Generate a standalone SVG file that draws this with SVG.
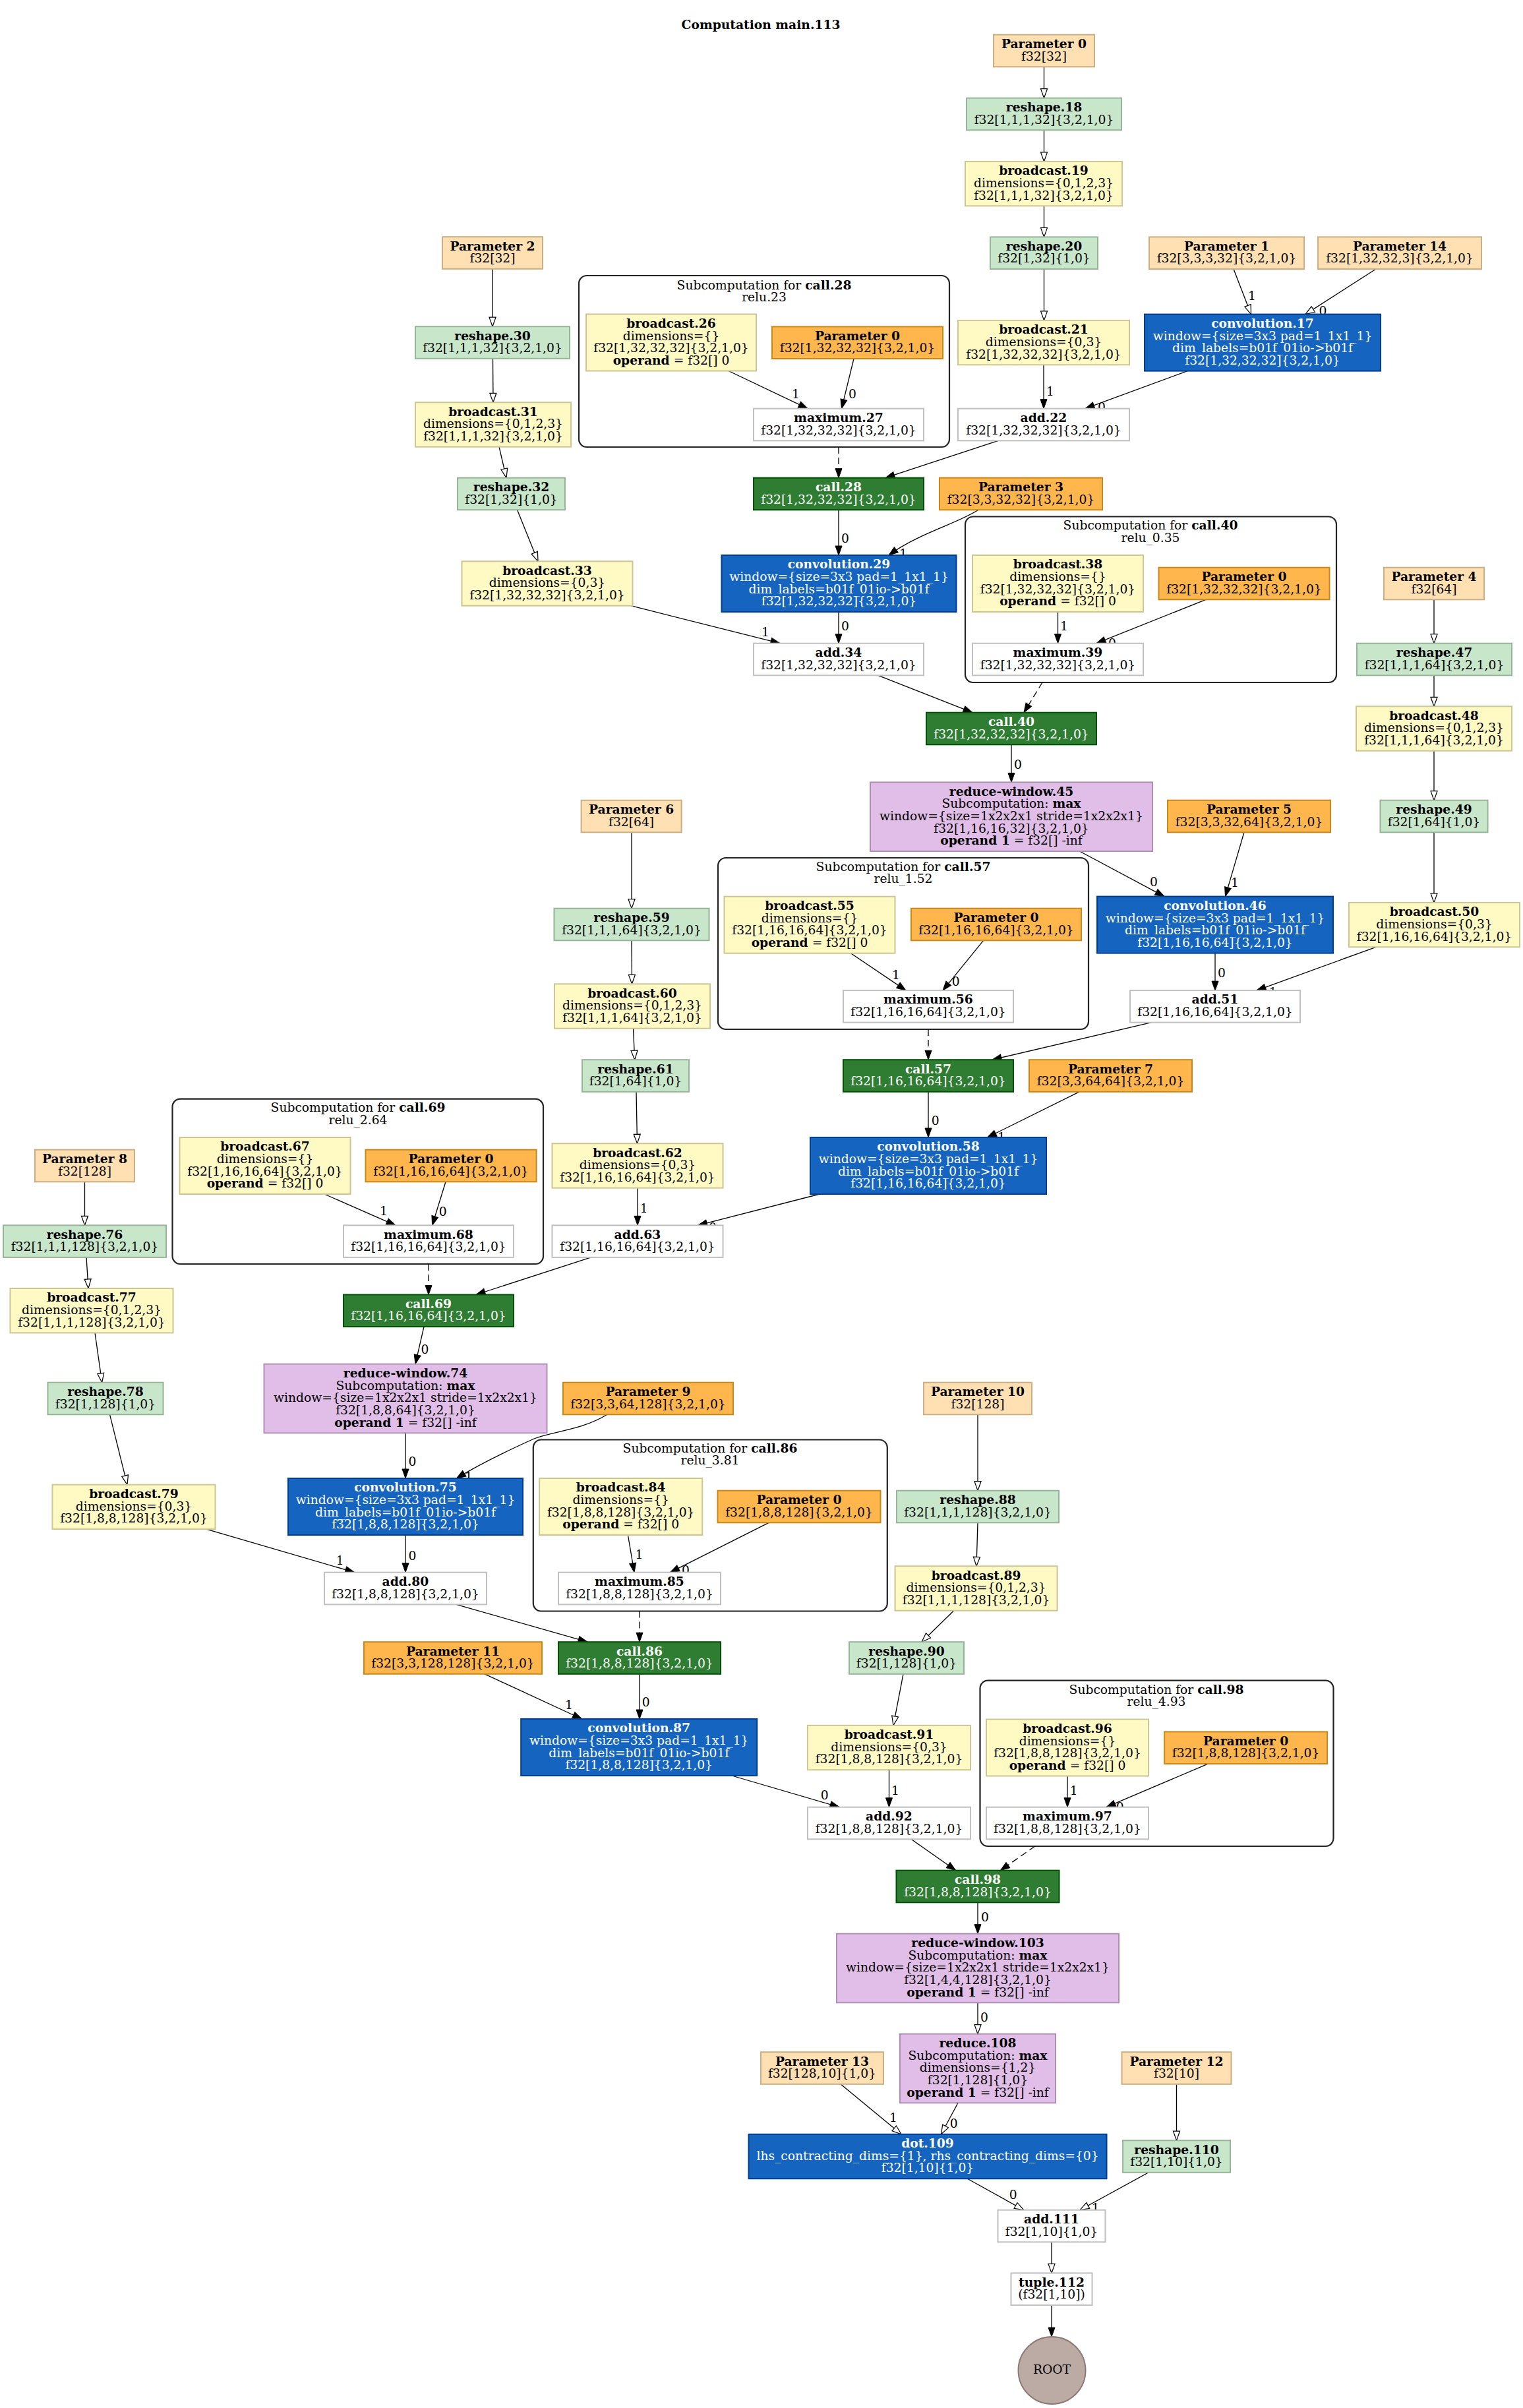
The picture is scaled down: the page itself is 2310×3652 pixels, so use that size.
<svg xmlns="http://www.w3.org/2000/svg" width="2310" height="3652" viewBox="0 0 2310 3652">
<style>
text{font-family:"DejaVu Serif",serif;font-size:18.7px;text-anchor:middle;fill:#000}
.b{font-weight:bold}
.w text,text.w{fill:#fff}
.param rect{fill:#ffe0b2;stroke:#cbae82;stroke-width:2}
.pdark rect{fill:#ffb74d;stroke:#c88719;stroke-width:2}
.reshape rect{fill:#c8e6c9;stroke:#97b498;stroke-width:2}
.bcast rect{fill:#fff9c4;stroke:#cbc693;stroke-width:2}
.conv rect{fill:#1565c0;stroke:#003c8f;stroke-width:2}
.call rect{fill:#2e7d32;stroke:#005005;stroke-width:2}
.reduce rect{fill:#e1bee7;stroke:#af8eb5;stroke-width:2}
.plain rect{fill:#fff;stroke:#c0c0c0;stroke-width:2}
.cluster rect{fill:#fff;stroke:#222;stroke-width:2.2}
#connectors path{fill:none;stroke:#000;stroke-width:1.3}
#connectors path.d{stroke-dasharray:10,6}
</style>
<defs>
<marker id="af" markerUnits="userSpaceOnUse" markerWidth="16" markerHeight="12" refX="14" refY="5" orient="auto" overflow="visible"><path d="M0,0 L14,5 L0,10 z" fill="#000" stroke="#000" stroke-width="1"/></marker>
<marker id="ah" markerUnits="userSpaceOnUse" markerWidth="16" markerHeight="12" refX="14" refY="5" orient="auto" overflow="visible"><path d="M0,0 L14,5 L0,10 z" fill="#fff" stroke="#000" stroke-width="1.2"/></marker>
</defs>
<rect x="0" y="0" width="2310" height="3652" fill="#fff"/>
<text class="b" x="1154" y="43.6">Computation main.113</text>

<g id="clusters">
<g id="cluster_call28" class="cluster"><rect x="878" y="418" width="562" height="260" rx="12"/><text x="1159" y="438.6">Subcomputation for <tspan class="b">call.28</tspan></text><text x="1159" y="457.2">relu.23</text></g>
<g id="cluster_call40" class="cluster"><rect x="1464" y="783.5" width="563" height="251.5" rx="12"/><text x="1745" y="803.1">Subcomputation for <tspan class="b">call.40</tspan></text><text x="1745" y="821.7">relu_0.35</text></g>
<g id="cluster_call57" class="cluster"><rect x="1089" y="1301" width="562" height="260" rx="12"/><text x="1370" y="1320.6">Subcomputation for <tspan class="b">call.57</tspan></text><text x="1370" y="1339.2">relu_1.52</text></g>
<g id="cluster_call69" class="cluster"><rect x="261.5" y="1666.6" width="562.5" height="250.4" rx="12"/><text x="543" y="1686.2">Subcomputation for <tspan class="b">call.69</tspan></text><text x="543" y="1704.8">relu_2.64</text></g>
<g id="cluster_call86" class="cluster"><rect x="808.8" y="2183.5" width="537" height="260" rx="12"/><text x="1077" y="2202.6">Subcomputation for <tspan class="b">call.86</tspan></text><text x="1077" y="2221.2">relu_3.81</text></g>
<g id="cluster_call98" class="cluster"><rect x="1486.5" y="2548.7" width="536" height="251.3" rx="12"/><text x="1754" y="2568.6">Subcomputation for <tspan class="b">call.98</tspan></text><text x="1754" y="2587.2">relu_4.93</text></g>
</g>

<g id="connectors">
<path d="M1583.5,101.3 L1583.5,148.7" marker-end="url(#ah)"/>
<path d="M1583.5,197.3 L1583.5,244.9" marker-end="url(#ah)"/>
<path d="M1583.5,312.3 L1583.5,359.4" marker-end="url(#ah)"/>
<path d="M1583.5,408 L1583.5,485.9" marker-end="url(#ah)"/>
<path d="M1871,408 L1897.5,476.6" marker-end="url(#ah)"/>
<path d="M2087,408 L1980,476.6" marker-end="url(#ah)"/>
<path d="M1583,553.3 L1583,619.7" marker-end="url(#af)"/>
<path d="M1801,562.6 L1646,619.7" marker-end="url(#af)"/>
<path d="M747,407.8 L747,495.2" marker-end="url(#ah)"/>
<path d="M747.5,543.8 L748,610.3" marker-end="url(#ah)"/>
<path d="M757,677.7 L768,724.7" marker-end="url(#ah)"/>
<path d="M784.5,773.3 L816,851.3" marker-end="url(#ah)"/>
<path d="M1105,562.5 L1225,619.7" marker-end="url(#af)"/>
<path d="M1295,544 L1276.5,619.7" marker-end="url(#af)"/>
<path class="d" d="M1272,678 L1272,724.7" marker-end="url(#af)"/>
<path d="M1514,668.3 L1343,724.7" marker-end="url(#af)"/>
<path d="M1272,773.3 L1272,842" marker-end="url(#af)"/>
<path d="M1484,773.3 C1450,795 1395,808 1348,842" marker-end="url(#af)"/>
<path d="M1272,928 L1272,975.7" marker-end="url(#af)"/>
<path d="M957,918.7 L1183,975.7" marker-end="url(#af)"/>
<path d="M1604.5,928 L1604.5,975.7" marker-end="url(#af)"/>
<path d="M1829,909.3 L1663,975.7" marker-end="url(#af)"/>
<path d="M2175,909.3 L2175,975.7" marker-end="url(#ah)"/>
<path d="M2175,1024.3 L2175,1071.3" marker-end="url(#ah)"/>
<path d="M1332,1024.3 L1475,1080.7" marker-end="url(#af)"/>
<path class="d" d="M1581,1035 L1553,1080.7" marker-end="url(#af)"/>
<path d="M1534,1129.3 L1534,1186.4" marker-end="url(#af)"/>
<path d="M2175,1138.7 L2175,1213.7" marker-end="url(#ah)"/>
<path d="M1637.5,1291 L1766,1359.6" marker-end="url(#af)"/>
<path d="M1887,1262.3 L1858.5,1359.6" marker-end="url(#af)"/>
<path d="M2175,1262.3 L2175,1368.9" marker-end="url(#ah)"/>
<path d="M1290.5,1445.7 L1374,1502.1" marker-end="url(#af)"/>
<path d="M1491.6,1426.3 L1430,1502.1" marker-end="url(#af)"/>
<path d="M1843,1445.6 L1843,1502.1" marker-end="url(#af)"/>
<path d="M2087,1436.3 L1906,1502.1" marker-end="url(#af)"/>
<path class="d" d="M1408,1561 L1408,1607.2" marker-end="url(#af)"/>
<path d="M1746.5,1550.7 L1505,1607.2" marker-end="url(#af)"/>
<path d="M1408,1655.8 L1408,1725" marker-end="url(#af)"/>
<path d="M1637,1655.8 L1497.5,1725" marker-end="url(#af)"/>
<path d="M958,1262.3 L958,1377.7" marker-end="url(#ah)"/>
<path d="M958,1426.3 L958.5,1492.3" marker-end="url(#ah)"/>
<path d="M960.5,1559.7 L962.7,1607.2" marker-end="url(#ah)"/>
<path d="M965,1655.8 L966.5,1734.3" marker-end="url(#ah)"/>
<path d="M128.5,1792.3 L128.5,1858.3" marker-end="url(#ah)"/>
<path d="M492,1811 L600,1858.3" marker-end="url(#af)"/>
<path d="M676,1792.3 L655.6,1858.3" marker-end="url(#af)"/>
<path d="M967,1801.7 L967,1858.3" marker-end="url(#af)"/>
<path d="M1243,1811 L1058.5,1858.3" marker-end="url(#af)"/>
<path d="M131,1906.9 L134,1954" marker-end="url(#ah)"/>
<path class="d" d="M650,1917 L650,1963.5" marker-end="url(#af)"/>
<path d="M896.5,1906.9 L722,1963.5" marker-end="url(#af)"/>
<path d="M144,2021.4 L154.7,2096.7" marker-end="url(#ah)"/>
<path d="M643,2012.1 L630,2068.7" marker-end="url(#af)"/>
<path d="M166.5,2145.3 L193,2251.7" marker-end="url(#ah)"/>
<path d="M921,2145.3 C880,2170 840,2170 810,2182 C770,2200 725,2222 692.4,2242" marker-end="url(#af)"/>
<path d="M615,2173.3 L615,2242" marker-end="url(#af)"/>
<path d="M313,2319.1 L537.7,2384.7" marker-end="url(#af)"/>
<path d="M615,2328 L615,2384.7" marker-end="url(#af)"/>
<path d="M952.4,2328 L962,2384.7" marker-end="url(#af)"/>
<path d="M1166,2309.3 L1016.5,2384.7" marker-end="url(#af)"/>
<path d="M1483,2145.3 L1483,2260.7" marker-end="url(#ah)"/>
<path d="M1483,2309.3 L1481,2375.3" marker-end="url(#ah)"/>
<path d="M692,2433.3 L891,2490.2" marker-end="url(#af)"/>
<path class="d" d="M970,2443.5 L970,2490.2" marker-end="url(#af)"/>
<path d="M970,2538.8 L970,2607" marker-end="url(#af)"/>
<path d="M735,2538.8 L882.5,2607" marker-end="url(#af)"/>
<path d="M1446.7,2442.7 L1398,2490.2" marker-end="url(#ah)"/>
<path d="M1370,2538.8 L1355,2616.8" marker-end="url(#ah)"/>
<path d="M1110,2693 L1273,2740.7" marker-end="url(#af)"/>
<path d="M1348.5,2684.2 L1348.5,2740.7" marker-end="url(#af)"/>
<path d="M1619,2693.5 L1619,2740.7" marker-end="url(#af)"/>
<path d="M1832.7,2674.9 L1678,2740.7" marker-end="url(#af)"/>
<path d="M1382,2789.3 L1449.6,2836.7" marker-end="url(#af)"/>
<path class="d" d="M1569.7,2800 L1517.4,2836.7" marker-end="url(#af)"/>
<path d="M1483,2885.3 L1483,2932.7" marker-end="url(#af)"/>
<path d="M1483,3037.3 L1483,3084.7" marker-end="url(#ah)"/>
<path d="M1275,3160.8 L1367,3236.8" marker-end="url(#ah)"/>
<path d="M1453,3189.3 L1427.5,3236.8" marker-end="url(#ah)"/>
<path d="M1784.5,3160.8 L1784.5,3246.2" marker-end="url(#ah)"/>
<path d="M1467.3,3304.2 L1552.8,3351.7" marker-end="url(#ah)"/>
<path d="M1742,3294.8 L1638,3351.7" marker-end="url(#ah)"/>
<path d="M1595,3400.3 L1595,3447.4" marker-end="url(#ah)"/>
<path d="M1595,3496 L1595,3544" marker-end="url(#af)"/>
<text x="1899" y="454.8">1</text>
<text x="2006.5" y="477.8">0</text>
<text x="1593" y="599.8">1</text>
<text x="1671" y="623.8">0</text>
<text x="1207" y="603.8">1</text>
<text x="1293" y="603.8">0</text>
<text x="1282" y="822.8">0</text>
<text x="1370" y="845.8">1</text>
<text x="1282" y="955.5">0</text>
<text x="1161" y="964.8">1</text>
<text x="1614" y="955.5">1</text>
<text x="1687" y="981.8">0</text>
<text x="1544" y="1166.3">0</text>
<text x="1750" y="1343.8">0</text>
<text x="1873" y="1344.8">1</text>
<text x="1359" y="1484.8">1</text>
<text x="1449.6" y="1495.4">0</text>
<text x="1853" y="1482.4">0</text>
<text x="1930.6" y="1510.5">1</text>
<text x="1418.7" y="1705.8">0</text>
<text x="1519" y="1730.8">1</text>
<text x="582" y="1843.2">1</text>
<text x="671.8" y="1844.4">0</text>
<text x="976.7" y="1839.2">1</text>
<text x="1081" y="1867.8">0</text>
<text x="644.5" y="2052.8">0</text>
<text x="711" y="2245.8">1</text>
<text x="625.4" y="2222.8">0</text>
<text x="515.6" y="2372.8">1</text>
<text x="625.4" y="2365.5">0</text>
<text x="969.4" y="2364.3">1</text>
<text x="1040" y="2387.8">0</text>
<text x="979.7" y="2587.8">0</text>
<text x="863" y="2591.8">1</text>
<text x="1250.8" y="2728.8">0</text>
<text x="1358" y="2721.8">1</text>
<text x="1628.6" y="2721.8">1</text>
<text x="1698.6" y="2746.8">0</text>
<text x="1494" y="2913.8">0</text>
<text x="1493" y="3065.8">0</text>
<text x="1355" y="3217.8">1</text>
<text x="1446.7" y="3226.8">0</text>
<text x="1536.6" y="3335.3">0</text>
<text x="1661.8" y="3355.2">1</text>
</g>

<g id="nodes">
<g id="param0_top" class="param"><rect x="1507" y="52.7" width="153" height="48.6"/><text class="b" x="1583.5" y="73">Parameter 0</text><text x="1583.5" y="91.6">f32[32]</text></g>
<g id="reshape18" class="reshape"><rect x="1466" y="148.7" width="235" height="48.6"/><text class="b" x="1583.5" y="169">reshape.18</text><text x="1583.5" y="187.6">f32[1,1,1,32]{3,2,1,0}</text></g>
<g id="broadcast19" class="bcast"><rect x="1464" y="244.9" width="238" height="67.4"/><text class="b" x="1583" y="265.3">broadcast.19</text><text x="1583" y="283.9">dimensions={0,1,2,3}</text><text x="1583" y="302.5">f32[1,1,1,32]{3,2,1,0}</text></g>
<g id="reshape20" class="reshape"><rect x="1502" y="359.4" width="163" height="48.6"/><text class="b" x="1583.5" y="379.7">reshape.20</text><text x="1583.5" y="398.3">f32[1,32]{1,0}</text></g>
<g id="broadcast21" class="bcast"><rect x="1453" y="485.9" width="260" height="67.4"/><text class="b" x="1583" y="506.3">broadcast.21</text><text x="1583" y="524.9">dimensions={0,3}</text><text x="1583" y="543.5">f32[1,32,32,32]{3,2,1,0}</text></g>
<g id="param1" class="param"><rect x="1743" y="359.4" width="235" height="48.6"/><text class="b" x="1860.5" y="379.7">Parameter 1</text><text x="1860.5" y="398.3">f32[3,3,3,32]{3,2,1,0}</text></g>
<g id="param14" class="param"><rect x="1999" y="359.4" width="248" height="48.6"/><text class="b" x="2123" y="379.7">Parameter 14</text><text x="2123" y="398.3">f32[1,32,32,3]{3,2,1,0}</text></g>
<g id="convolution17" class="conv w"><rect x="1736" y="476.6" width="358" height="86"/><text class="b" x="1915" y="497">convolution.17</text><text x="1915" y="515.6">window={size=3x3 pad=1_1x1_1}</text><text x="1915" y="534.2">dim_labels=b01f_01io-&gt;b01f</text><text x="1915" y="552.8">f32[1,32,32,32]{3,2,1,0}</text></g>
<g id="add22" class="plain"><rect x="1453" y="619.7" width="260" height="48.6"/><text class="b" x="1583" y="640">add.22</text><text x="1583" y="658.6">f32[1,32,32,32]{3,2,1,0}</text></g>
<g id="param2" class="param"><rect x="671" y="359.2" width="152" height="48.6"/><text class="b" x="747" y="379.5">Parameter 2</text><text x="747" y="398.1">f32[32]</text></g>
<g id="reshape30" class="reshape"><rect x="630" y="495.2" width="234" height="48.6"/><text class="b" x="747" y="515.5">reshape.30</text><text x="747" y="534.1">f32[1,1,1,32]{3,2,1,0}</text></g>
<g id="broadcast31" class="bcast"><rect x="630" y="610.3" width="236" height="67.4"/><text class="b" x="748" y="630.7">broadcast.31</text><text x="748" y="649.3">dimensions={0,1,2,3}</text><text x="748" y="667.9">f32[1,1,1,32]{3,2,1,0}</text></g>
<g id="reshape32" class="reshape"><rect x="694" y="724.7" width="163" height="48.6"/><text class="b" x="775.5" y="745">reshape.32</text><text x="775.5" y="763.6">f32[1,32]{1,0}</text></g>
<g id="broadcast33" class="bcast"><rect x="700.5" y="851.3" width="259" height="67.4"/><text class="b" x="830" y="871.7">broadcast.33</text><text x="830" y="890.3">dimensions={0,3}</text><text x="830" y="908.9">f32[1,32,32,32]{3,2,1,0}</text></g>
<g id="broadcast26" class="bcast"><rect x="889" y="476.5" width="258" height="86"/><text class="b" x="1018" y="496.9">broadcast.26</text><text x="1018" y="515.5">dimensions={}</text><text x="1018" y="534.1">f32[1,32,32,32]{3,2,1,0}</text><text x="1018" y="552.7"><tspan class="b">operand</tspan> = f32[] 0</text></g>
<g id="param0_call28" class="pdark"><rect x="1171" y="495.4" width="259" height="48.6"/><text class="b" x="1300.5" y="515.7">Parameter 0</text><text x="1300.5" y="534.3">f32[1,32,32,32]{3,2,1,0}</text></g>
<g id="maximum27" class="plain"><rect x="1143" y="619.7" width="258" height="48.6"/><text class="b" x="1272" y="640">maximum.27</text><text x="1272" y="658.6">f32[1,32,32,32]{3,2,1,0}</text></g>
<g id="call28" class="call w"><rect x="1143" y="724.7" width="258" height="48.6"/><text class="b" x="1272" y="745">call.28</text><text x="1272" y="763.6">f32[1,32,32,32]{3,2,1,0}</text></g>
<g id="param3" class="pdark"><rect x="1425" y="724.7" width="247" height="48.6"/><text class="b" x="1548.5" y="745">Parameter 3</text><text x="1548.5" y="763.6">f32[3,3,32,32]{3,2,1,0}</text></g>
<g id="convolution29" class="conv w"><rect x="1094.5" y="842" width="356" height="86"/><text class="b" x="1272.5" y="862.4">convolution.29</text><text x="1272.5" y="881">window={size=3x3 pad=1_1x1_1}</text><text x="1272.5" y="899.6">dim_labels=b01f_01io-&gt;b01f</text><text x="1272.5" y="918.2">f32[1,32,32,32]{3,2,1,0}</text></g>
<g id="add34" class="plain"><rect x="1143" y="975.7" width="258" height="48.6"/><text class="b" x="1272" y="996">add.34</text><text x="1272" y="1014.6">f32[1,32,32,32]{3,2,1,0}</text></g>
<g id="broadcast38" class="bcast"><rect x="1475" y="842" width="259" height="86"/><text class="b" x="1604.5" y="862.4">broadcast.38</text><text x="1604.5" y="881">dimensions={}</text><text x="1604.5" y="899.6">f32[1,32,32,32]{3,2,1,0}</text><text x="1604.5" y="918.2"><tspan class="b">operand</tspan> = f32[] 0</text></g>
<g id="param0_call40" class="pdark"><rect x="1757.5" y="860.7" width="259" height="48.6"/><text class="b" x="1887" y="881">Parameter 0</text><text x="1887" y="899.6">f32[1,32,32,32]{3,2,1,0}</text></g>
<g id="maximum39" class="plain"><rect x="1475" y="975.7" width="259" height="48.6"/><text class="b" x="1604.5" y="996">maximum.39</text><text x="1604.5" y="1014.6">f32[1,32,32,32]{3,2,1,0}</text></g>
<g id="param4" class="param"><rect x="2099" y="860.7" width="152" height="48.6"/><text class="b" x="2175" y="881">Parameter 4</text><text x="2175" y="899.6">f32[64]</text></g>
<g id="reshape47" class="reshape"><rect x="2058" y="975.7" width="235" height="48.6"/><text class="b" x="2175.5" y="996">reshape.47</text><text x="2175.5" y="1014.6">f32[1,1,1,64]{3,2,1,0}</text></g>
<g id="broadcast48" class="bcast"><rect x="2057" y="1071.3" width="236" height="67.4"/><text class="b" x="2175" y="1091.7">broadcast.48</text><text x="2175" y="1110.3">dimensions={0,1,2,3}</text><text x="2175" y="1128.9">f32[1,1,1,64]{3,2,1,0}</text></g>
<g id="call40" class="call w"><rect x="1405" y="1080.7" width="258" height="48.6"/><text class="b" x="1534" y="1101">call.40</text><text x="1534" y="1119.6">f32[1,32,32,32]{3,2,1,0}</text></g>
<g id="reducewindow45" class="reduce"><rect x="1320" y="1186.4" width="428" height="104.6"/><text class="b" x="1534" y="1206.8">reduce-window.45</text><text x="1534" y="1225.4">Subcomputation: <tspan class="b">max</tspan></text><text x="1534" y="1244">window={size=1x2x2x1 stride=1x2x2x1}</text><text x="1534" y="1262.6">f32[1,16,16,32]{3,2,1,0}</text><text x="1534" y="1281.2"><tspan class="b">operand 1</tspan> = f32[] -inf</text></g>
<g id="param5" class="pdark"><rect x="1771" y="1213.7" width="247" height="48.6"/><text class="b" x="1894.5" y="1234">Parameter 5</text><text x="1894.5" y="1252.6">f32[3,3,32,64]{3,2,1,0}</text></g>
<g id="reshape49" class="reshape"><rect x="2093.5" y="1213.7" width="163" height="48.6"/><text class="b" x="2175" y="1234">reshape.49</text><text x="2175" y="1252.6">f32[1,64]{1,0}</text></g>
<g id="convolution46" class="conv w"><rect x="1664" y="1359.6" width="358" height="86"/><text class="b" x="1843" y="1380">convolution.46</text><text x="1843" y="1398.6">window={size=3x3 pad=1_1x1_1}</text><text x="1843" y="1417.2">dim_labels=b01f_01io-&gt;b01f</text><text x="1843" y="1435.8">f32[1,16,16,64]{3,2,1,0}</text></g>
<g id="broadcast50" class="bcast"><rect x="2046" y="1368.9" width="259" height="67.4"/><text class="b" x="2175.5" y="1389.3">broadcast.50</text><text x="2175.5" y="1407.9">dimensions={0,3}</text><text x="2175.5" y="1426.5">f32[1,16,16,64]{3,2,1,0}</text></g>
<g id="broadcast55" class="bcast"><rect x="1098.5" y="1359.7" width="259" height="86"/><text class="b" x="1228" y="1380.1">broadcast.55</text><text x="1228" y="1398.7">dimensions={}</text><text x="1228" y="1417.3">f32[1,16,16,64]{3,2,1,0}</text><text x="1228" y="1435.9"><tspan class="b">operand</tspan> = f32[] 0</text></g>
<g id="param0_call57" class="pdark"><rect x="1382" y="1377.7" width="258" height="48.6"/><text class="b" x="1511" y="1398">Parameter 0</text><text x="1511" y="1416.6">f32[1,16,16,64]{3,2,1,0}</text></g>
<g id="maximum56" class="plain"><rect x="1279" y="1502.1" width="258" height="48.6"/><text class="b" x="1408" y="1522.4">maximum.56</text><text x="1408" y="1541">f32[1,16,16,64]{3,2,1,0}</text></g>
<g id="add51" class="plain"><rect x="1714" y="1502.1" width="258" height="48.6"/><text class="b" x="1843" y="1522.4">add.51</text><text x="1843" y="1541">f32[1,16,16,64]{3,2,1,0}</text></g>
<g id="call57" class="call w"><rect x="1279" y="1607.2" width="258" height="48.6"/><text class="b" x="1408" y="1627.5">call.57</text><text x="1408" y="1646.1">f32[1,16,16,64]{3,2,1,0}</text></g>
<g id="param7" class="pdark"><rect x="1561" y="1607.2" width="247" height="48.6"/><text class="b" x="1684.5" y="1627.5">Parameter 7</text><text x="1684.5" y="1646.1">f32[3,3,64,64]{3,2,1,0}</text></g>
<g id="convolution58" class="conv w"><rect x="1229" y="1725" width="358" height="86"/><text class="b" x="1408" y="1745.4">convolution.58</text><text x="1408" y="1764">window={size=3x3 pad=1_1x1_1}</text><text x="1408" y="1782.6">dim_labels=b01f_01io-&gt;b01f</text><text x="1408" y="1801.2">f32[1,16,16,64]{3,2,1,0}</text></g>
<g id="param6" class="param"><rect x="881.6" y="1213.7" width="152" height="48.6"/><text class="b" x="957.6" y="1234">Parameter 6</text><text x="957.6" y="1252.6">f32[64]</text></g>
<g id="reshape59" class="reshape"><rect x="840.5" y="1377.7" width="235" height="48.6"/><text class="b" x="958" y="1398">reshape.59</text><text x="958" y="1416.6">f32[1,1,1,64]{3,2,1,0}</text></g>
<g id="broadcast60" class="bcast"><rect x="841" y="1492.3" width="236" height="67.4"/><text class="b" x="959" y="1512.7">broadcast.60</text><text x="959" y="1531.3">dimensions={0,1,2,3}</text><text x="959" y="1549.9">f32[1,1,1,64]{3,2,1,0}</text></g>
<g id="reshape61" class="reshape"><rect x="883" y="1607.2" width="162" height="48.6"/><text class="b" x="964" y="1627.5">reshape.61</text><text x="964" y="1646.1">f32[1,64]{1,0}</text></g>
<g id="broadcast62" class="bcast"><rect x="837.5" y="1734.3" width="259" height="67.4"/><text class="b" x="967" y="1754.7">broadcast.62</text><text x="967" y="1773.3">dimensions={0,3}</text><text x="967" y="1791.9">f32[1,16,16,64]{3,2,1,0}</text></g>
<g id="broadcast67" class="bcast"><rect x="272.5" y="1725" width="259" height="86"/><text class="b" x="402" y="1745.4">broadcast.67</text><text x="402" y="1764">dimensions={}</text><text x="402" y="1782.6">f32[1,16,16,64]{3,2,1,0}</text><text x="402" y="1801.2"><tspan class="b">operand</tspan> = f32[] 0</text></g>
<g id="param0_call69" class="pdark"><rect x="554.5" y="1743.7" width="259" height="48.6"/><text class="b" x="684" y="1764">Parameter 0</text><text x="684" y="1782.6">f32[1,16,16,64]{3,2,1,0}</text></g>
<g id="param8" class="param"><rect x="53" y="1743.7" width="151" height="48.6"/><text class="b" x="128.5" y="1764">Parameter 8</text><text x="128.5" y="1782.6">f32[128]</text></g>
<g id="maximum68" class="plain"><rect x="521" y="1858.3" width="258" height="48.6"/><text class="b" x="650" y="1878.6">maximum.68</text><text x="650" y="1897.2">f32[1,16,16,64]{3,2,1,0}</text></g>
<g id="add63" class="plain"><rect x="837.5" y="1858.3" width="259" height="48.6"/><text class="b" x="967" y="1878.6">add.63</text><text x="967" y="1897.2">f32[1,16,16,64]{3,2,1,0}</text></g>
<g id="reshape76" class="reshape"><rect x="5" y="1858.3" width="247" height="48.6"/><text class="b" x="128.5" y="1878.6">reshape.76</text><text x="128.5" y="1897.2">f32[1,1,1,128]{3,2,1,0}</text></g>
<g id="broadcast77" class="bcast"><rect x="15.5" y="1954" width="247" height="67.4"/><text class="b" x="139" y="1974.4">broadcast.77</text><text x="139" y="1993">dimensions={0,1,2,3}</text><text x="139" y="2011.6">f32[1,1,1,128]{3,2,1,0}</text></g>
<g id="call69" class="call w"><rect x="521" y="1963.5" width="258" height="48.6"/><text class="b" x="650" y="1983.8">call.69</text><text x="650" y="2002.4">f32[1,16,16,64]{3,2,1,0}</text></g>
<g id="reshape78" class="reshape"><rect x="72.5" y="2096.7" width="175" height="48.6"/><text class="b" x="160" y="2117">reshape.78</text><text x="160" y="2135.6">f32[1,128]{1,0}</text></g>
<g id="reducewindow74" class="reduce"><rect x="400.5" y="2068.7" width="429" height="104.6"/><text class="b" x="615" y="2089.1">reduce-window.74</text><text x="615" y="2107.7">Subcomputation: <tspan class="b">max</tspan></text><text x="615" y="2126.3">window={size=1x2x2x1 stride=1x2x2x1}</text><text x="615" y="2144.9">f32[1,8,8,64]{3,2,1,0}</text><text x="615" y="2163.5"><tspan class="b">operand 1</tspan> = f32[] -inf</text></g>
<g id="param9" class="pdark"><rect x="854" y="2096.7" width="258" height="48.6"/><text class="b" x="983" y="2117">Parameter 9</text><text x="983" y="2135.6">f32[3,3,64,128]{3,2,1,0}</text></g>
<g id="broadcast79" class="bcast"><rect x="79.5" y="2251.7" width="247" height="67.4"/><text class="b" x="203" y="2272.1">broadcast.79</text><text x="203" y="2290.7">dimensions={0,3}</text><text x="203" y="2309.3">f32[1,8,8,128]{3,2,1,0}</text></g>
<g id="convolution75" class="conv w"><rect x="437" y="2242" width="356" height="86"/><text class="b" x="615" y="2262.4">convolution.75</text><text x="615" y="2281">window={size=3x3 pad=1_1x1_1}</text><text x="615" y="2299.6">dim_labels=b01f_01io-&gt;b01f</text><text x="615" y="2318.2">f32[1,8,8,128]{3,2,1,0}</text></g>
<g id="broadcast84" class="bcast"><rect x="818.2" y="2242" width="247" height="86"/><text class="b" x="941.7" y="2262.4">broadcast.84</text><text x="941.7" y="2281">dimensions={}</text><text x="941.7" y="2299.6">f32[1,8,8,128]{3,2,1,0}</text><text x="941.7" y="2318.2"><tspan class="b">operand</tspan> = f32[] 0</text></g>
<g id="param0_call86" class="pdark"><rect x="1088.5" y="2260.7" width="247" height="48.6"/><text class="b" x="1212" y="2281">Parameter 0</text><text x="1212" y="2299.6">f32[1,8,8,128]{3,2,1,0}</text></g>
<g id="add80" class="plain"><rect x="492" y="2384.7" width="246" height="48.6"/><text class="b" x="615" y="2405">add.80</text><text x="615" y="2423.6">f32[1,8,8,128]{3,2,1,0}</text></g>
<g id="maximum85" class="plain"><rect x="847" y="2384.7" width="246" height="48.6"/><text class="b" x="970" y="2405">maximum.85</text><text x="970" y="2423.6">f32[1,8,8,128]{3,2,1,0}</text></g>
<g id="param10" class="param"><rect x="1401" y="2096.7" width="164" height="48.6"/><text class="b" x="1483" y="2117">Parameter 10</text><text x="1483" y="2135.6">f32[128]</text></g>
<g id="reshape88" class="reshape"><rect x="1360" y="2260.7" width="246" height="48.6"/><text class="b" x="1483" y="2281">reshape.88</text><text x="1483" y="2299.6">f32[1,1,1,128]{3,2,1,0}</text></g>
<g id="broadcast89" class="bcast"><rect x="1357.6" y="2375.3" width="246" height="67.4"/><text class="b" x="1480.6" y="2395.7">broadcast.89</text><text x="1480.6" y="2414.3">dimensions={0,1,2,3}</text><text x="1480.6" y="2432.9">f32[1,1,1,128]{3,2,1,0}</text></g>
<g id="param11" class="pdark"><rect x="552" y="2490.2" width="270" height="48.6"/><text class="b" x="687" y="2510.5">Parameter 11</text><text x="687" y="2529.1">f32[3,3,128,128]{3,2,1,0}</text></g>
<g id="call86" class="call w"><rect x="847" y="2490.2" width="246" height="48.6"/><text class="b" x="970" y="2510.5">call.86</text><text x="970" y="2529.1">f32[1,8,8,128]{3,2,1,0}</text></g>
<g id="convolution87" class="conv w"><rect x="790.2" y="2607" width="358" height="86"/><text class="b" x="969.2" y="2627.4">convolution.87</text><text x="969.2" y="2646">window={size=3x3 pad=1_1x1_1}</text><text x="969.2" y="2664.6">dim_labels=b01f_01io-&gt;b01f</text><text x="969.2" y="2683.2">f32[1,8,8,128]{3,2,1,0}</text></g>
<g id="reshape90" class="reshape"><rect x="1288" y="2490.2" width="174" height="48.6"/><text class="b" x="1375" y="2510.5">reshape.90</text><text x="1375" y="2529.1">f32[1,128]{1,0}</text></g>
<g id="broadcast91" class="bcast"><rect x="1225" y="2616.8" width="247" height="67.4"/><text class="b" x="1348.5" y="2637.2">broadcast.91</text><text x="1348.5" y="2655.8">dimensions={0,3}</text><text x="1348.5" y="2674.4">f32[1,8,8,128]{3,2,1,0}</text></g>
<g id="broadcast96" class="bcast"><rect x="1496" y="2607.5" width="246" height="86"/><text class="b" x="1619" y="2627.9">broadcast.96</text><text x="1619" y="2646.5">dimensions={}</text><text x="1619" y="2665.1">f32[1,8,8,128]{3,2,1,0}</text><text x="1619" y="2683.7"><tspan class="b">operand</tspan> = f32[] 0</text></g>
<g id="param0_call98" class="pdark"><rect x="1766.1" y="2626.4" width="247" height="48.6"/><text class="b" x="1889.6" y="2646.7">Parameter 0</text><text x="1889.6" y="2665.3">f32[1,8,8,128]{3,2,1,0}</text></g>
<g id="add92" class="plain"><rect x="1225" y="2740.7" width="247" height="48.6"/><text class="b" x="1348.5" y="2761">add.92</text><text x="1348.5" y="2779.6">f32[1,8,8,128]{3,2,1,0}</text></g>
<g id="maximum97" class="plain"><rect x="1496" y="2740.7" width="246" height="48.6"/><text class="b" x="1619" y="2761">maximum.97</text><text x="1619" y="2779.6">f32[1,8,8,128]{3,2,1,0}</text></g>
<g id="call98" class="call w"><rect x="1359.5" y="2836.7" width="247" height="48.6"/><text class="b" x="1483" y="2857">call.98</text><text x="1483" y="2875.6">f32[1,8,8,128]{3,2,1,0}</text></g>
<g id="reducewindow103" class="reduce"><rect x="1269" y="2932.7" width="428" height="104.6"/><text class="b" x="1483" y="2953.1">reduce-window.103</text><text x="1483" y="2971.7">Subcomputation: <tspan class="b">max</tspan></text><text x="1483" y="2990.3">window={size=1x2x2x1 stride=1x2x2x1}</text><text x="1483" y="3008.9">f32[1,4,4,128]{3,2,1,0}</text><text x="1483" y="3027.5"><tspan class="b">operand 1</tspan> = f32[] -inf</text></g>
<g id="reduce108" class="reduce"><rect x="1365" y="3084.7" width="236" height="104.6"/><text class="b" x="1483" y="3105.1">reduce.108</text><text x="1483" y="3123.7">Subcomputation: <tspan class="b">max</tspan></text><text x="1483" y="3142.3">dimensions={1,2}</text><text x="1483" y="3160.9">f32[1,128]{1,0}</text><text x="1483" y="3179.5"><tspan class="b">operand 1</tspan> = f32[] -inf</text></g>
<g id="param13" class="param"><rect x="1154" y="3112.2" width="186" height="48.6"/><text class="b" x="1247" y="3132.5">Parameter 13</text><text x="1247" y="3151.1">f32[128,10]{1,0}</text></g>
<g id="param12" class="param"><rect x="1701.5" y="3112.2" width="166" height="48.6"/><text class="b" x="1784.5" y="3132.5">Parameter 12</text><text x="1784.5" y="3151.1">f32[10]</text></g>
<g id="dot109" class="conv w"><rect x="1135.5" y="3236.8" width="543" height="67.4"/><text class="b" x="1407" y="3257.2">dot.109</text><text x="1407" y="3275.8">lhs_contracting_dims={1}, rhs_contracting_dims={0}</text><text x="1407" y="3294.4">f32[1,10]{1,0}</text></g>
<g id="reshape110" class="reshape"><rect x="1703" y="3246.2" width="163" height="48.6"/><text class="b" x="1784.5" y="3266.5">reshape.110</text><text x="1784.5" y="3285.1">f32[1,10]{1,0}</text></g>
<g id="add111" class="plain"><rect x="1513.5" y="3351.7" width="163" height="48.6"/><text class="b" x="1595" y="3372">add.111</text><text x="1595" y="3390.6">f32[1,10]{1,0}</text></g>
<g id="tuple112" class="plain"><rect x="1533.5" y="3447.4" width="123" height="48.6"/><text class="b" x="1595" y="3467.7">tuple.112</text><text x="1595" y="3486.3">(f32[1,10])</text></g>
<g id="root"><ellipse cx="1595.5" cy="3595" rx="51" ry="51" fill="#bcaaa4" stroke="#8c7b75" stroke-width="2"/><text x="1595.5" y="3600.2">ROOT</text></g>
</g>
</svg>
